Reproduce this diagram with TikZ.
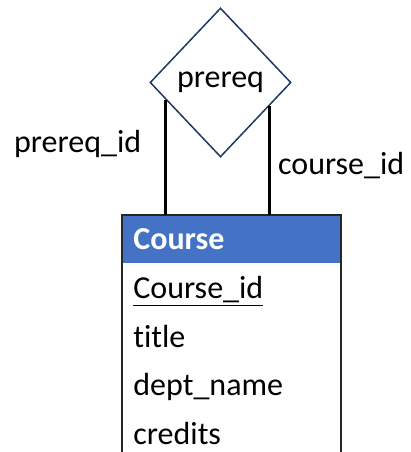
\documentclass[tikz,border=0pt]{standalone}
\usepackage{fontspec}
\setmainfont{Carlito}[Ligatures=NoCommon]
\usetikzlibrary{positioning,shapes.geometric,calc}

\definecolor{hdrblue}{HTML}{4472C4}
\definecolor{navy}{HTML}{1F3864}

\begin{document}
\begin{tikzpicture}[
  x=0.5pt, y=-0.5pt,
  font=\fontsize{16}{19}\selectfont,
  rel/.style={draw=navy, line width=0.75pt, diamond, inner sep=0pt,
    minimum width=70.5pt, minimum height=74.5pt},
  hdr/.style={fill=hdrblue, text=white, font=\fontsize{16}{19}\selectfont\bfseries,
    anchor=north west, minimum width=109pt, minimum height=24pt,
    text width=98pt, inner xsep=5.5pt, inner ysep=0pt, align=left,
    text height=11pt, text depth=1pt},
  attr/.style={minimum width=109pt, minimum height=24pt,
    text width=98pt, inner xsep=5.5pt, inner ysep=0pt, align=left,
    text height=11pt, text depth=1pt},
  conn/.style={line width=1.5pt},
  tbl/.style={line width=0.75pt, draw=black!85},
  lbl/.style={inner sep=0pt}
]
\useasboundingbox (0,0) rectangle (411,452);

% relationship
\node[rel] (rel) at (220.5,82.5) {prereq};

% entity table
\node[hdr] (course) at (122,215) {Course};
\node[attr, below=0pt of course] (cid) {\underline{Course\_id}};
\node[attr, below=0pt of cid] (title) {title};
\node[attr, below=0pt of title] (dept) {dept\_name};
\node[attr, below=0pt of dept] (cred) {credits};

\coordinate (bot) at (0,452);
\draw[tbl] (course.south west |- bot) -- (course.north west)
  -- (course.north east) -- (course.north east |- bot);

% connectors
\coordinate (pl) at ($(rel.west)!0.23!(rel.south)$);
\coordinate (pr) at ($(rel.east)!0.31!(rel.south)$);
\draw[conn] (pl) -- node[lbl, pos=0.46, anchor=base east, xshift=-11.5pt] {prereq\_id} (pl |- course.north);
\draw[conn] (pr) -- node[lbl, pos=0.63, anchor=base west, xshift=3.5pt] {course\_id} (pr |- course.north);

\end{tikzpicture}
\end{document}
